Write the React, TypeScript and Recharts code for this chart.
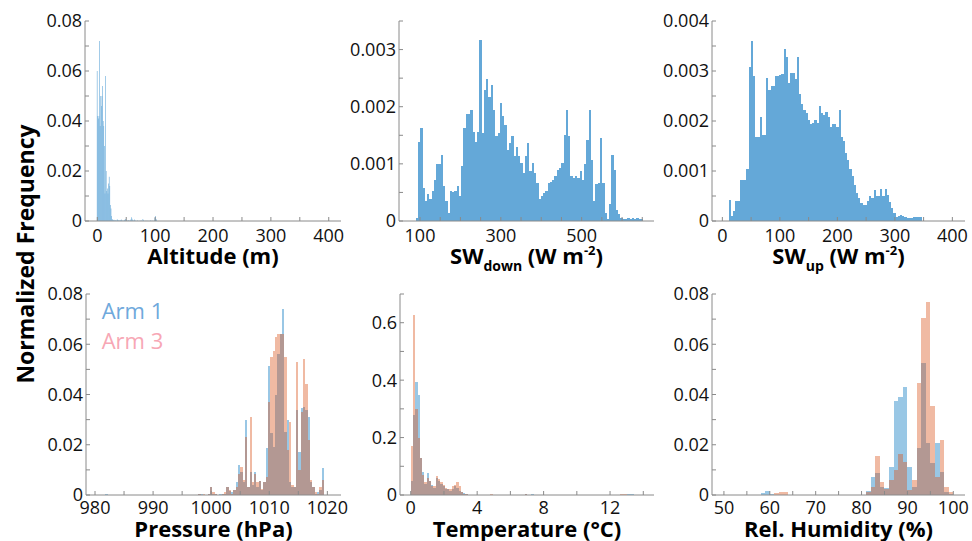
import React from 'react';
import { ComposedChart, Bar, XAxis, YAxis, Legend } from 'recharts';

const FONT = '"Open Sans", "Noto Sans", sans-serif';
const AXIS = '#8a8a8a';
const SINGLE = '#64a8d8';
const ARM1 = '#0072BD';
const ARM3 = '#D95319';

// ---------- shared y ticks ----------
const freqYTicks = [0, 0.01, 0.02, 0.03, 0.04, 0.05, 0.06, 0.07, 0.08];
const freqYLabels = [0, 0.02, 0.04, 0.06, 0.08];

// ---------- Altitude ----------
const altitudeBinStart = -0.8;
const altitudeBinWidth = 1.04;
const altitudeFreq = [
  0.060, 0.042, 0.041, 0.042, 0.072, 0.038, 0.050, 0.046, 0.050, 0.054,
  0.040, 0.038, 0.030, 0.011, 0.058, 0.020, 0.012, 0.013, 0.011, 0.015,
  0.0177, 0.014, 0.0064, 0.005, 0.002, 0.0008, 0.0004, 0.0003, 0.0005, 0.0002,
  0.0003, 0.0002, 0.0001, 0.0005, 0.0006, 0.0002, 0.0003, 0.0001, 0.0004, 0.0002,
  0.0006, 0.0003, 0.0001, 0.0002, 0.0001, 0.0003, 0.0005, 0.0008, 0.0002, 0.0001,
  0.0002, 0.0001, 0.0003, 0.0002, 0.0001, 0.0002, 0.0006, 0.0015, 0.0009, 0.0003,
  0.0002, 0.0001, 0.0006, 0.0002, 0.0001, 0, 0.0001, 0.0002, 0.0001, 0,
  0.0001, 0, 0.0001, 0.0002, 0.0001, 0, 0.0008, 0.0003, 0.0001, 0,
  0.0001, 0, 0.0001, 0, 0.0001, 0, 0.0001, 0, 0.0001, 0.0002,
  0.0001, 0, 0.0001, 0.0001, 0, 0.0002, 0.0013, 0.002, 0.0008, 0.0003,
];
const altitudeXTicks = [0, 50, 100, 150, 200, 250, 300, 350, 400];
const altitudeXLabels = [0, 100, 200, 300, 400];

// ---------- SW down ----------
const swDownBinStart = 89.3;
const swDownBinWidth = 5.63;
const swDownFreq = [
  0.00006, 0.00139, 0.00162, 0.00058, 0.00035, 0.00048, 0.00038, 0.00052, 0.00071, 0.00100,
  0.00100, 0.00116, 0.00061, 0.00035, 0.00014, 0.00052, 0.00050, 0.00052, 0.00061, 0.00043,
  0.00096, 0.00162, 0.00188, 0.00188, 0.00194, 0.00156, 0.00139, 0.00156, 0.00316, 0.00154,
  0.00229, 0.00248, 0.00217, 0.00238, 0.00194, 0.00148, 0.00154, 0.00206, 0.00183, 0.00168,
  0.00125, 0.00136, 0.00148, 0.00113, 0.00130, 0.00113, 0.00101, 0.00084, 0.00113, 0.00136,
  0.00087, 0.00101, 0.00084, 0.00067, 0.00038, 0.00043, 0.00049, 0.00052, 0.00067, 0.00068,
  0.00072, 0.00078, 0.00090, 0.00093, 0.00101, 0.00151, 0.00194, 0.00148, 0.00078, 0.00075,
  0.00078, 0.00075, 0.00087, 0.00072, 0.00099, 0.00142, 0.00194, 0.00107, 0.00035, 0.00064,
  0.00067, 0.00145, 0.00067, 0.00014, 0.00004, 0.00029, 0.00116, 0.00090, 0.00020, 0.00012,
  0.00006, 0.00004, 0.00004, 0.00005, 0.00004, 0.00005, 0.00004, 0.00005, 0.00003, 0.00003,
];
const swDownXTicks = [100, 150, 200, 250, 300, 350, 400, 450, 500, 550, 600, 650];
const swDownXLabels = [100, 300, 500];
const swDownYTicks = [0, 0.0005, 0.001, 0.0015, 0.002, 0.0025, 0.003, 0.0035];
const swDownYLabels = [0, 0.001, 0.002, 0.003];

// ---------- SW up ----------
const swUpBinStart = 11.3;
const swUpBinWidth = 3.815;
const swUpFreq = [
  0.00043, 0.00011, 0.00020, 0.00041, 0.00041, 0.00083, 0.00083, 0.00083, 0.00105, 0.00308,
  0.00360, 0.00291, 0.00169, 0.00169, 0.00208, 0.00172, 0.00172, 0.00287, 0.00263, 0.00270,
  0.00270, 0.00290, 0.00290, 0.00292, 0.00295, 0.00345, 0.00328, 0.00277, 0.00297, 0.00297,
  0.00285, 0.00328, 0.00254, 0.00235, 0.00222, 0.00216, 0.00202, 0.00194, 0.00196, 0.00202,
  0.00196, 0.00230, 0.00216, 0.00212, 0.00218, 0.00209, 0.00189, 0.00195, 0.00195, 0.00189,
  0.00222, 0.00169, 0.00160, 0.00136, 0.00123, 0.00105, 0.00090, 0.00072, 0.00056, 0.00046,
  0.00036, 0.00033, 0.00033, 0.00040, 0.00050, 0.00046, 0.00063, 0.00050, 0.00050, 0.00064,
  0.00050, 0.00064, 0.00053, 0.00038, 0.00026, 0.00017, 0.00009, 0.00010, 0.00013, 0.00010,
  0.00009, 0.00007, 0.00007, 0.00007, 0.00008, 0.00008, 0.00008, 0.00008,
];
const swUpXTicks = [0, 50, 100, 150, 200, 250, 300, 350, 400];
const swUpXLabels = [0, 100, 200, 300, 400];
const swUpYTicks = [0, 0.0005, 0.001, 0.0015, 0.002, 0.0025, 0.003, 0.0035, 0.004];
const swUpYLabels = [0, 0.001, 0.002, 0.003, 0.004];

// ---------- Pressure ----------
const pressureBinWidth = 0.4;
const pressureBins = [
  982.0, 998.0, 998.4, 998.8, 999.2, 999.6, 1000.0, 1000.4, 1000.8, 1001.2,
  1001.6, 1002.0, 1002.4, 1002.8, 1003.2, 1003.6, 1004.0, 1004.4, 1004.8, 1005.2,
  1005.6, 1006.0, 1006.4, 1006.8, 1007.2, 1007.6, 1008.0, 1008.4, 1008.8, 1009.2,
  1009.6, 1010.0, 1010.4, 1010.8, 1011.2, 1011.6, 1012.0, 1012.4, 1012.8, 1013.2,
  1013.6, 1014.0, 1014.4, 1014.8, 1015.2, 1015.6, 1016.0, 1016.4, 1016.8, 1017.2,
  1017.6, 1018.0, 1018.4, 1018.8, 1019.2, 1019.6,
];
const pressureArm1 = [
  0.0005, 0.0005, 0.0005, 0, 0, 0.0005, 0.0033, 0.0005, 0.0005, 0,
  0.0005, 0.0005, 0.0005, 0.0033, 0.0015, 0.0012, 0.002, 0.005, 0.012, 0.0093,
  0.005, 0.030, 0.003, 0.009, 0.004, 0.009, 0.003, 0.0055, 0.002, 0.005,
  0.0186, 0.0513, 0.0245, 0.019, 0.040, 0.056, 0.064, 0.074, 0.025, 0.030,
  0.005, 0.003, 0.003, 0.034, 0.017, 0.0345, 0.035, 0.034, 0.031, 0.005,
  0.003, 0.0005, 0.001, 0.002, 0.0106, 0,
];
const pressureArm3 = [
  0, 0.0005, 0, 0.0005, 0, 0.0005, 0.0033, 0.001, 0.0005, 0,
  0, 0.0005, 0.001, 0.003, 0.002, 0.0005, 0.002, 0.003, 0.0085, 0.0113,
  0.006, 0.023, 0.003, 0.031, 0.005, 0.0085, 0.005, 0.0055, 0.0025, 0.005,
  0.007, 0.037, 0.055, 0.0573, 0.063, 0.064, 0.064, 0.064, 0.055, 0.018,
  0.029, 0.004, 0.003, 0.053, 0.010, 0.033, 0.054, 0.044, 0.022, 0.006,
  0.003, 0.001, 0.0005, 0.003, 0.006, 0,
];
const pressureXTicks = [980, 985, 990, 995, 1000, 1005, 1010, 1015, 1020];
const pressureXLabels = [980, 990, 1000, 1010, 1020];

// ---------- Temperature ----------
const tempBinStart = 0;
const tempBinWidth = 0.137;
const tempArm1 = [
  0.05, 0.28, 0.395, 0.35, 0.13, 0.08, 0.04, 0.075, 0.05, 0.035,
  0.025, 0.06, 0.05, 0.04, 0.03, 0.02, 0.02, 0.015, 0.02, 0.03,
  0.025, 0.015, 0.01, 0.006, 0.003, 0.001, 0, 0, 0, 0,
  0, 0, 0, 0, 0, 0, 0, 0, 0, 0,
  0, 0, 0, 0, 0, 0, 0, 0, 0, 0,
  0.002, 0, 0, 0.002, 0, 0, 0, 0, 0, 0,
  0, 0, 0, 0, 0, 0, 0, 0, 0, 0,
  0, 0, 0, 0, 0, 0, 0, 0, 0, 0,
  0, 0, 0, 0, 0, 0, 0, 0, 0, 0,
  0, 0, 0, 0, 0, 0.002, 0.004, 0.003, 0, 0,
];
const tempArm3 = [
  0.17, 0.627, 0.30, 0.20, 0.13, 0.07, 0.045, 0.06, 0.05, 0.03,
  0.03, 0.065, 0.055, 0.045, 0.035, 0.025, 0.02, 0.02, 0.03, 0.035,
  0.045, 0.03, 0.01, 0.004, 0.002, 0, 0, 0, 0, 0,
  0, 0, 0, 0, 0, 0.002, 0, 0, 0, 0,
  0, 0, 0, 0, 0, 0, 0, 0, 0, 0,
  0.003, 0, 0, 0, 0, 0, 0, 0, 0, 0,
  0, 0, 0, 0, 0, 0, 0, 0, 0, 0,
  0, 0, 0, 0, 0, 0, 0, 0, 0, 0,
  0, 0, 0, 0, 0, 0, 0, 0, 0, 0,
  0, 0, 0.002, 0.004, 0.003, 0, 0, 0, 0, 0,
];
const tempXTicks = [0, 2, 4, 6, 8, 10, 12, 14];
const tempXLabels = [0, 4, 8, 12];
const tempYTicks = [0, 0.1, 0.2, 0.3, 0.4, 0.5, 0.6, 0.7];
const tempYLabels = [0, 0.2, 0.4, 0.6];

// ---------- Relative humidity ----------
const rhBinWidth = 1;
const rhBins = [
  58.5, 59.5, 60.5, 61.5, 62.5, 63.5, 81.5, 82.5, 83.5, 84.5,
  85.5, 86.5, 87.5, 88.5, 89.5, 90.5, 91.5, 92.5, 93.5, 94.5,
  95.5, 96.5, 97.5, 98.5, 99.5,
];
const rhArm1 = [
  0.0008, 0.0015, 0.0003, 0, 0, 0, 0.0015, 0.0073, 0.0086, 0.003,
  0.0027, 0.011, 0.0375, 0.039, 0.0428, 0.0113, 0.003, 0.0188, 0.0527, 0.0205,
  0.0126, 0.0205, 0.009, 0.001, 0.0003,
];
const rhArm3 = [
  0, 0, 0, 0.0006, 0.001, 0.001, 0.0013, 0.0033, 0.0157, 0.0053,
  0.0024, 0.006, 0.010, 0.0163, 0.0133, 0.002, 0.006, 0.0447, 0.0703, 0.077,
  0.0354, 0.0073, 0.022, 0.0033, 0.0013,
];
const rhXTicks = [50, 55, 60, 65, 70, 75, 80, 85, 90, 95, 100];
const rhXLabels = [50, 60, 70, 80, 90, 100];

const legendColors: Record<string, string> = { 'Arm 1': '#6fa9dc', 'Arm 3': '#f7a7b5' };

// ---------- helpers ----------
const binCenters = (start: number, width: number, count: number) =>
  Array.from({ length: count }, (_, i) => start + width * (i + 0.5));

const rows1 = (xs: number[], a: number[]) => xs.map((x, i) => ({ x, a: a[i] }));
const rows2 = (xs: number[], a: number[], b: number[]) => xs.map((x, i) => ({ x, a: a[i], b: b[i] }));

const altitudeData = rows1(binCenters(altitudeBinStart, altitudeBinWidth, altitudeFreq.length), altitudeFreq);
const swDownData = rows1(binCenters(swDownBinStart, swDownBinWidth, swDownFreq.length), swDownFreq);
const swUpData = rows1(binCenters(swUpBinStart, swUpBinWidth, swUpFreq.length), swUpFreq);
const pressureData = rows2(pressureBins, pressureArm1, pressureArm3);
const tempData = rows2(binCenters(tempBinStart, tempBinWidth, tempArm1.length), tempArm1, tempArm3);
const rhData = rows2(rhBins, rhArm1, rhArm3);

type Series = { key: string; name: string; fill: string; opacity: number; axis: 'b' | 't' };

const singleSeries: Series[] = [{ key: 'a', name: 'Frequency', fill: SINGLE, opacity: 1, axis: 'b' }];
const armSeries: Series[] = [
  { key: 'a', name: 'Arm 1', fill: ARM1, opacity: 0.4, axis: 'b' },
  { key: 'b', name: 'Arm 3', fill: ARM3, opacity: 0.4, axis: 't' },
];

const labelFormatter = (labels: number[]) => (v: number) => {
  const hit = labels.find((m) => Math.abs(m - v) < 1e-9);
  return hit === undefined ? '' : String(hit);
};

const renderLegend = (p: any) => (
  <div style={{ fontFamily: FONT, fontSize: 22, lineHeight: '30px', whiteSpace: 'nowrap' }}>
    {(p.payload || []).map((e: any) => (
      <div key={e.value} style={{ color: legendColors[e.value] || e.color }}>{e.value}</div>
    ))}
  </div>
);

type PanelProps = {
  box: [number, number, number, number];
  data: any[];
  binWidth: number;
  xDomain: [number, number];
  xTicks: number[];
  xLabels: number[];
  yDomain: [number, number];
  yTicks: number[];
  yLabels: number[];
  series: Series[];
  xTickMargin: number;
  crisp: boolean;
  legend?: boolean;
};

const TOPM = 20;

function Panel(p: PanelProps) {
  const [l, t, r, b] = p.box;
  const W = r - l + 60 + 12;
  const H = b - t + TOPM + 40;
  const tickStyle = { fill: '#111', fontSize: 18, fontFamily: FONT };
  // bar width in pixels = one bin on the axis scale (a hair under so Recharts keeps it)
  const barPx = (p.binWidth * (r - l)) / (p.xDomain[1] - p.xDomain[0]) - 0.004;
  return (
    <div style={{ position: 'absolute', left: l - 60, top: t - TOPM }}>
      <ComposedChart
        width={W}
        height={H}
        data={p.data}
        margin={{ top: TOPM, right: 12, bottom: 0, left: 0 }}
        barCategoryGap={0}
        barGap={0}
      >
        <XAxis
          xAxisId="b"
          dataKey="x"
          type="number"
          orientation="bottom"
          domain={p.xDomain}
          allowDataOverflow
          ticks={p.xTicks}
          interval={0}
          height={40}
          tickSize={-4}
          tickMargin={p.xTickMargin}
          tickFormatter={labelFormatter(p.xLabels)}
          tick={tickStyle}
          axisLine={{ stroke: AXIS }}
          tickLine={{ stroke: AXIS }}
        />
        <XAxis
          xAxisId="t"
          dataKey="x"
          type="number"
          orientation="top"
          domain={p.xDomain}
          allowDataOverflow
          ticks={p.xTicks}
          interval={0}
          height={0}
          tickSize={-4}
          tick={false}
          axisLine={{ stroke: AXIS }}
          tickLine={{ stroke: AXIS }}
        />
        <YAxis
          yAxisId="l"
          type="number"
          orientation="left"
          domain={p.yDomain}
          allowDataOverflow
          ticks={p.yTicks}
          interval={0}
          width={60}
          tickSize={-4}
          tickMargin={7}
          tickFormatter={labelFormatter(p.yLabels)}
          tick={tickStyle}
          axisLine={{ stroke: AXIS }}
          tickLine={{ stroke: AXIS }}
        />
        <YAxis
          yAxisId="r"
          type="number"
          orientation="right"
          domain={p.yDomain}
          allowDataOverflow
          ticks={p.yTicks}
          interval={0}
          width={0}
          tickSize={-4}
          tick={false}
          axisLine={{ stroke: AXIS }}
          tickLine={{ stroke: AXIS }}
        />
        {p.series.map((s) => (
          <Bar
            key={s.key}
            dataKey={s.key}
            name={s.name}
            xAxisId={s.axis}
            yAxisId="l"
            fill={s.fill}
            fillOpacity={s.opacity}
            barSize={barPx}
            isAnimationActive={false}
            shapeRendering={p.crisp ? 'crispEdges' : undefined}
          />
        ))}
        {p.legend && (
          <Legend
            layout="vertical"
            align="center"
            verticalAlign="middle"
            content={renderLegend}
            wrapperStyle={{ left: 75.7, top: 20.8, width: 120 }}
          />
        )}
      </ComposedChart>
    </div>
  );
}

const titleBase: React.CSSProperties = {
  position: 'absolute',
  width: 300,
  textAlign: 'center',
  fontWeight: 700,
  fontSize: 22,
  lineHeight: '22px',
  fontFamily: FONT,
  color: '#000',
  whiteSpace: 'nowrap',
};

function Title({ cx, top, children }: { cx: number; top: number; children: React.ReactNode }) {
  return <div style={{ ...titleBase, left: cx - 150, top }}>{children}</div>;
}

const sub: React.CSSProperties = { fontSize: 14, position: 'relative', top: 7 };
const sup: React.CSSProperties = { fontSize: 13, position: 'relative', top: -9 };

export default function App() {
  const row1Top = 244;
  const row2Top = 516.5;
  return (
    <div
      style={{
        position: 'absolute',
        left: 0,
        top: 0,
        width: 972,
        height: 541,
        background: '#fff',
        overflow: 'hidden',
        fontFamily: FONT,
      }}
    >
      <Panel box={[85, 21, 341, 221]} data={altitudeData} binWidth={altitudeBinWidth} xDomain={[-21.3, 421.2]} xTicks={altitudeXTicks} xLabels={altitudeXLabels}
        yDomain={[0, 0.08]} yTicks={freqYTicks} yLabels={freqYLabels} series={singleSeries} xTickMargin={12} crisp={false} />
      <Panel box={[399, 21, 654, 221]} data={swDownData} binWidth={swDownBinWidth} xDomain={[48, 679]} xTicks={swDownXTicks} xLabels={swDownXLabels}
        yDomain={[0, 0.0035]} yTicks={swDownYTicks} yLabels={swDownYLabels} series={singleSeries} xTickMargin={12} crisp />
      <Panel box={[712, 21, 965, 221]} data={swUpData} binWidth={swUpBinWidth} xDomain={[-18, 422]} xTicks={swUpXTicks} xLabels={swUpXLabels}
        yDomain={[0, 0.004]} yTicks={swUpYTicks} yLabels={swUpYLabels} series={singleSeries} xTickMargin={12} crisp />
      <Panel box={[86, 294, 341, 495]} data={pressureData} binWidth={pressureBinWidth} xDomain={[978.45, 1022.35]} xTicks={pressureXTicks} xLabels={pressureXLabels}
        yDomain={[0, 0.08]} yTicks={freqYTicks} yLabels={freqYLabels} series={armSeries} xTickMargin={10} crisp legend />
      <Panel box={[400, 294, 654, 495]} data={tempData} binWidth={tempBinWidth} xDomain={[-0.645, 14.645]} xTicks={tempXTicks} xLabels={tempXLabels}
        yDomain={[0, 0.7]} yTicks={tempYTicks} yLabels={tempYLabels} series={armSeries} xTickMargin={10} crisp />
      <Panel box={[712, 294, 965, 495]} data={rhData} binWidth={rhBinWidth} xDomain={[47.4, 102.55]} xTicks={rhXTicks} xLabels={rhXLabels}
        yDomain={[0, 0.08]} yTicks={freqYTicks} yLabels={freqYLabels} series={armSeries} xTickMargin={10} crisp />

      <Title cx={213} top={row1Top}>Altitude (m)</Title>
      <Title cx={526.5} top={row1Top}>
        SW<span style={sub}>down</span> (W m<span style={sup}>-2</span>)
      </Title>
      <Title cx={838.5} top={row1Top}>
        SW<span style={sub}>up</span> (W m<span style={sup}>-2</span>)
      </Title>
      <Title cx={213.5} top={row2Top}>Pressure (hPa)</Title>
      <Title cx={527} top={row2Top}>Temperature (°C)</Title>
      <Title cx={838.5} top={row2Top}>Rel. Humidity (%)</Title>

      <div
        style={{
          ...titleBase,
          width: 400,
          height: 22,
          fontSize: 23,
          left: 25 - 200,
          top: 254 - 11,
          transform: 'rotate(-90deg)',
          transformOrigin: '50% 50%',
        }}
      >
        Normalized Frequency
      </div>
    </div>
  );
}
